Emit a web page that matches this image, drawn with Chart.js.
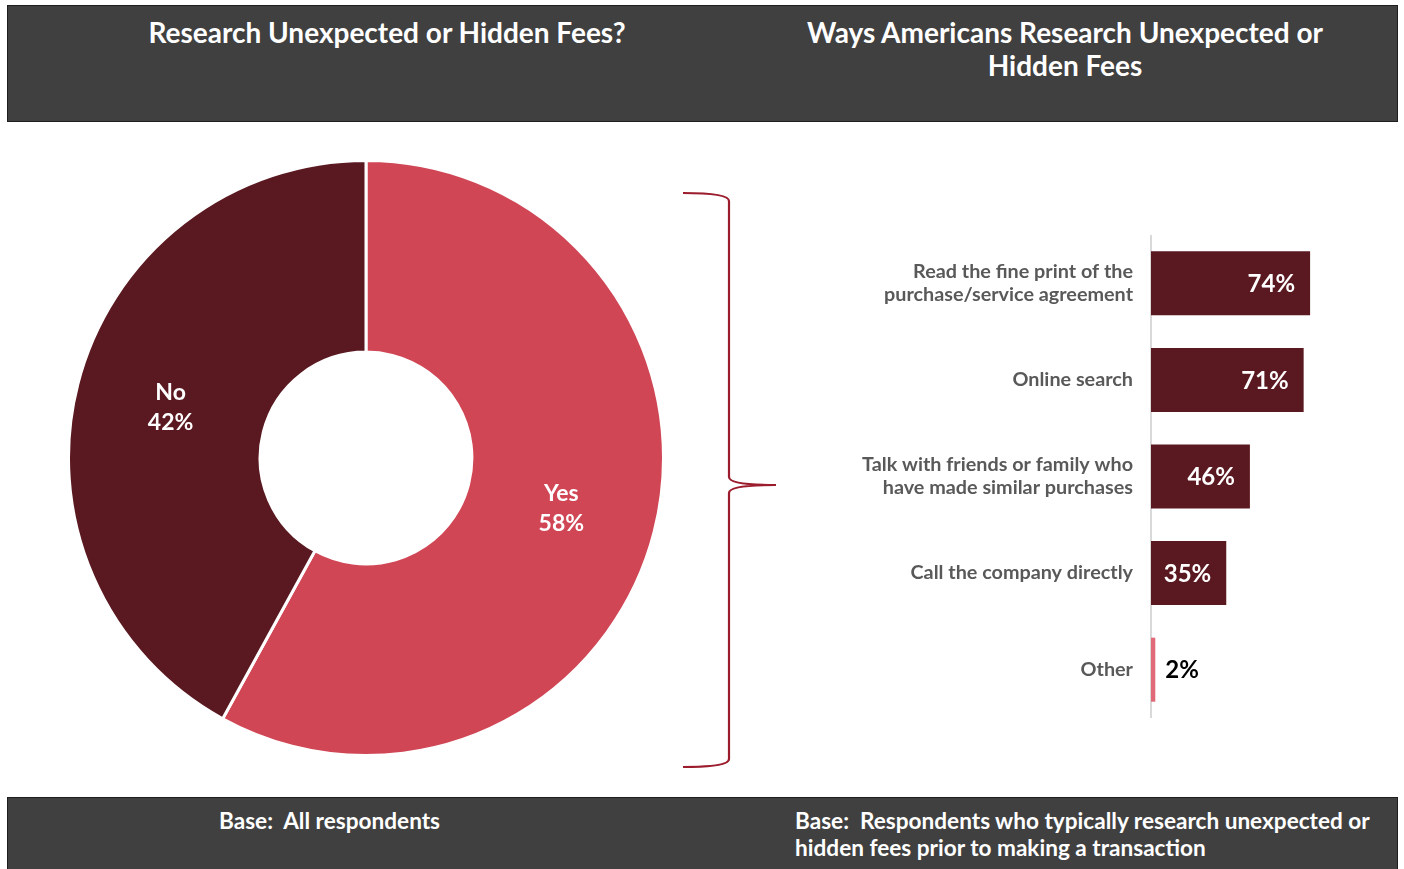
<!DOCTYPE html>
<html>
<head>
<meta charset="utf-8">
<script src="https://cdn.jsdelivr.net/npm/chart.js@4/dist/chart.umd.min.js"></script>
<style>
  html, body { margin: 0; padding: 0; background: #fff; }
  body { width: 1404px; height: 869px; position: relative; overflow: hidden; font-family: Lato, "Open Sans", sans-serif; }
  .band { position: absolute; left: 7px; width: 1389px; background: #404040; border: 1px solid #1e1e1e; }
  .head { top: 5px; height: 115px; }
  .foot { top: 797px; height: 80px; }
  .txt { position: absolute; color: #fff; font-weight: 700; white-space: nowrap; }
  .htxt { font-size: 28px; line-height: 33px; text-align: center; }
  .ftxt { font-size: 22.6px; line-height: 27px; }
  #donutBox { position: absolute; left: 67px; top: 159px; width: 598px; height: 598px; }
  #barBox { position: absolute; left: 850px; top: 235px; width: 516px; height: 483px; }
  svg { position: absolute; left: 0; top: 0; }
</style>
</head>
<body>
<div class="band head"></div>
<div class="txt htxt" style="left:87px; top:16px; width:600px;">Research Unexpected or Hidden Fees?</div>
<div class="txt htxt" style="left:765px; top:16px; width:600px;">Ways Americans Research Unexpected or<br>Hidden Fees</div>

<div class="band foot"></div>
<div class="txt ftxt" style="left:219px; top:807px;">Base:&nbsp; All respondents</div>
<div class="txt ftxt" style="left:795px; top:807px;">Base:&nbsp; Respondents who typically research unexpected or<br>hidden fees prior to making a transaction</div>

<svg width="1404" height="869">
  <path d="M683,193 Q729,193 729,201 L729,477 Q729,485 776,485 Q729,485 729,493 L729,759 Q729,767 683,767"
        fill="none" stroke="#9b1c2c" stroke-width="2.2"/>
</svg>

<div id="donutBox"><canvas id="donut"></canvas></div>
<div id="barBox"><canvas id="bars"></canvas></div>

<script>
// Share of respondents who research unexpected or hidden fees
const donutLabels = ['Yes', 'No'];
const donutValues = [58, 42];
const donutColors = ['#d04655', '#5a1920'];

// Ways people research those fees (percent of those who do)
const wayLabels = [
  ['Read the fine print of the', 'purchase/service agreement'],
  'Online search',
  ['Talk with friends or family who', 'have made similar purchases'],
  'Call the company directly',
  'Other'
];
const wayValues = [74, 71, 46, 35, 2];
const wayColors = ['#5a1920', '#5a1920', '#5a1920', '#5a1920', '#e06a78'];

const FONT = 'Lato, "Open Sans", sans-serif';

// Writes "Label / NN%" in the middle of each doughnut slice
const sliceLabels = {
  id: 'sliceLabels',
  afterDatasetsDraw(chart) {
    const ctx = chart.ctx;
    const meta = chart.getDatasetMeta(0);
    ctx.save();
    ctx.fillStyle = '#ffffff';
    ctx.font = '700 23px ' + FONT;
    ctx.textAlign = 'center';
    ctx.textBaseline = 'middle';
    meta.data.forEach((arc, i) => {
      const p = arc.getCenterPoint();
      ctx.fillText(donutLabels[i], p.x, p.y - 15);
      ctx.fillText(donutValues[i] + '%', p.x, p.y + 15);
    });
    ctx.restore();
  }
};

// Writes each bar's value: inside the bar when it fits, otherwise just past its end
const barValues = {
  id: 'barValues',
  afterDatasetsDraw(chart) {
    const ctx = chart.ctx;
    const meta = chart.getDatasetMeta(0);
    ctx.save();
    ctx.font = '700 24px ' + FONT;
    ctx.textBaseline = 'middle';
    meta.data.forEach((bar, i) => {
      const txt = wayValues[i] + '%';
      const w = ctx.measureText(txt).width;
      const len = bar.x - bar.base;
      if (len > w + 20) {
        ctx.fillStyle = '#ffffff';
        ctx.textAlign = 'right';
        ctx.fillText(txt, bar.x - 15, bar.y + 1);
      } else {
        ctx.fillStyle = '#000000';
        ctx.textAlign = 'left';
        ctx.fillText(txt, bar.x + 10, bar.y + 1);
      }
    });
    ctx.restore();
  }
};

new Chart(document.getElementById('donut'), {
  type: 'doughnut',
  data: {
    labels: donutLabels,
    datasets: [{
      data: donutValues,
      backgroundColor: donutColors,
      borderColor: '#ffffff',
      borderWidth: 3
    }]
  },
  options: {
    responsive: true,
    maintainAspectRatio: false,
    animation: false,
    cutout: '35.6%',
    layout: { padding: 0 },
    plugins: { legend: { display: false }, tooltip: { enabled: false } }
  },
  plugins: [sliceLabels]
});

new Chart(document.getElementById('bars'), {
  type: 'bar',
  data: {
    labels: wayLabels,
    datasets: [{
      data: wayValues,
      backgroundColor: wayColors,
      categoryPercentage: 1,
      barPercentage: 0.663
    }]
  },
  options: {
    indexAxis: 'y',
    responsive: true,
    maintainAspectRatio: false,
    animation: false,
    layout: { padding: 0 },
    scales: {
      x: { min: 0, max: 100, display: false },
      y: {
        afterFit(scale) {
          // fixed label column; the category bands fill the full height
          scale.width = 301;
          scale.paddingTop = 0;
          scale.paddingBottom = 0;
        },
        grid: { display: true, drawOnChartArea: false, drawTicks: false },
        border: { display: true, color: '#d9d9d9', width: 2 },
        ticks: {
          color: '#595959',
          padding: 18,
          font: { family: FONT, size: 19.8, weight: '700', lineHeight: 1.17 }
        }
      }
    },
    plugins: { legend: { display: false }, tooltip: { enabled: false } }
  },
  plugins: [barValues]
});
</script>
</body>
</html>
